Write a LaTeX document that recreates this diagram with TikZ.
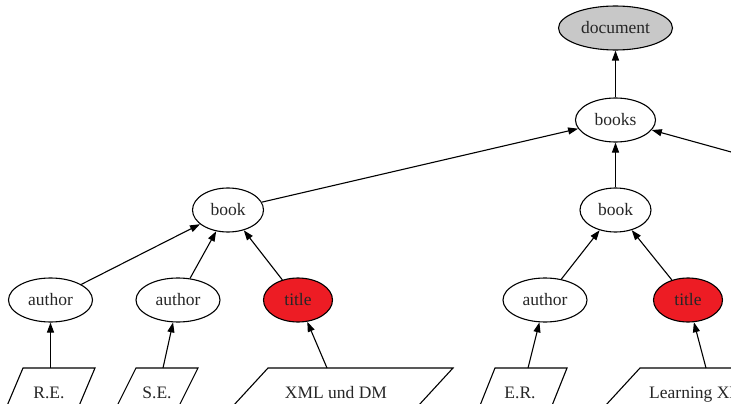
\documentclass[tikz,border=0pt]{standalone}
\usepackage{fontspec}
\setmainfont{Liberation Serif}
\usetikzlibrary{shapes.geometric,arrows.meta}
\definecolor{titlered}{HTML}{ED1C24}
\definecolor{docgray}{HTML}{C8C8C8}
\begin{document}
\begin{tikzpicture}[x=1pt,y=-1pt,
  every node/.style={font=\fontsize{17.5}{20}\selectfont, text=black!85},
  elem/.style={ellipse, draw, line width=1.1pt, inner sep=0pt, minimum height=44pt},
  redelem/.style={elem, fill=titlered},
  rootelem/.style={elem, fill=docgray},
  para/.style={draw, line width=1.1pt},
  edge/.style={line width=1.1pt, -{Triangle[length=10pt,width=7pt]}}]
\useasboundingbox (0,0) rectangle (731,404);
\clip (0,0) rectangle (731,404);
% ellipses
\node[rootelem, minimum width=114pt] (doc) at (615.5,28) {document};
\node[elem, minimum width=80pt] (books) at (615.5,120) {books};
\node[elem, minimum width=71pt] (bookL) at (228,210) {book};
\node[elem, minimum width=71pt] (bookR) at (615.5,210) {book};
\node[elem, minimum width=84pt] (au1) at (50.5,300) {author};
\node[elem, minimum width=84pt] (au2) at (178,300) {author};
\node[redelem, minimum width=69pt] (ti1) at (298,300) {title};
\node[elem, minimum width=84pt] (au3) at (545,300) {author};
\node[redelem, minimum width=69pt] (ti2) at (688,300) {title};
\coordinate (bookX) at (883,194);
% parallelograms
\draw[para] (23,368) -- (95,368) -- (76,413) -- (4,413) -- cycle;
\draw[para] (136,368) -- (198,368) -- (175.5,413) -- (113.5,413) -- cycle;
\draw[para] (268,368) -- (453,368) -- (411.6,413) -- (226.6,413) -- cycle;
\draw[para] (495,368) -- (567,368) -- (549,413) -- (477,413) -- cycle;
\draw[para] (640,368) -- (850,368) -- (808.6,413) -- (598.6,413) -- cycle;
\node[anchor=base] (re) at (49,398) {R.E.};
\node[anchor=base] (se) at (157,398) {S.E.};
\node[anchor=base] (xml) at (336,398) {XML und DM};
\node[anchor=base] (er) at (520,398) {E.R.};
\node[anchor=base west, inner sep=0pt] (lx) at (649,398) {Learning XML};
\coordinate (reT) at (50.5,368);
\coordinate (seT) at (163,368);
\coordinate (xmlT) at (327,368);
\coordinate (erT) at (528,368);
\coordinate (lxT) at (706,368);
% edges
\draw[edge] (books) -- (doc);
\draw[edge] (bookL) -- (books);
\draw[edge] (bookR) -- (books);
\draw[edge] (bookX) -- (books);
\draw[edge] (au1) -- (bookL);
\draw[edge] (au2) -- (bookL);
\draw[edge] (ti1) -- (bookL);
\draw[edge] (au3) -- (bookR);
\draw[edge] (ti2) -- (bookR);
\draw[edge] (reT) -- (au1);
\draw[edge] (seT) -- (au2);
\draw[edge] (xmlT) -- (ti1);
\draw[edge] (erT) -- (au3);
\draw[edge] (lxT) -- (ti2);
\end{tikzpicture}
\end{document}
